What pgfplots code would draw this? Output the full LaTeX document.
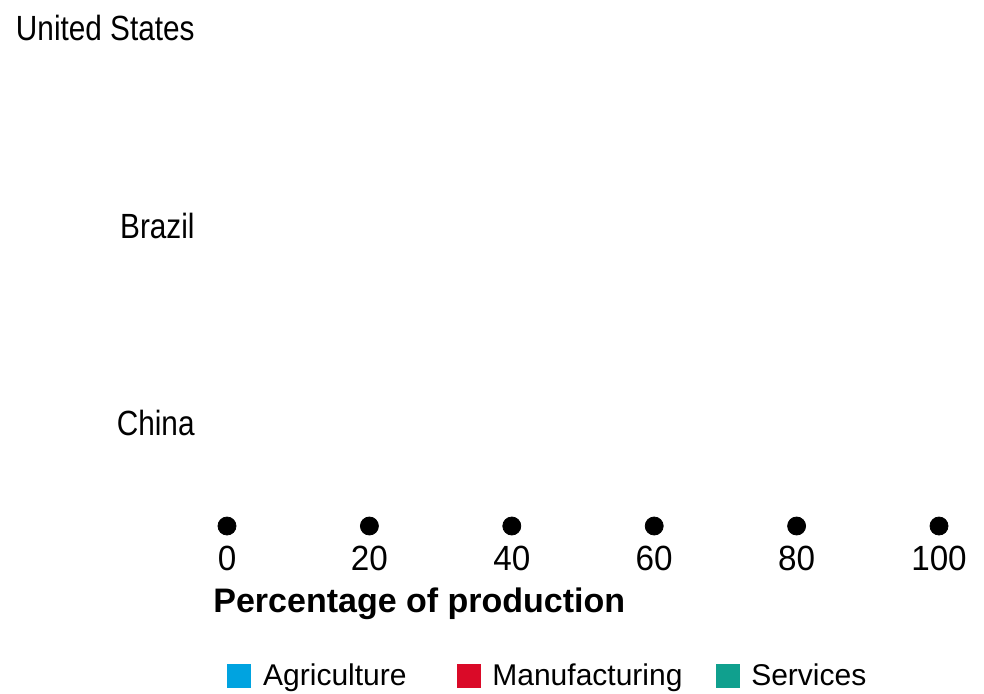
\documentclass[border=0pt]{standalone}
\usepackage{fontspec}
\setmainfont{Liberation Sans}
\newfontfamily\condfont[FakeStretch=0.85]{Liberation Sans}
\newfontfamily\numfont[FakeStretch=0.95]{Liberation Sans}
\usepackage{pgfplots}
\pgfplotsset{compat=1.18}

\definecolor{agri}{RGB}{0,163,224}
\definecolor{manuf}{RGB}{218,10,40}
\definecolor{serv}{RGB}{16,160,142}

\begin{document}
\begin{tikzpicture}
	\begin{axis}[
			at={(0,0)}, anchor=south west,
			scale only axis,
			width=356pt, height=248.9pt,
			xmin=0, xmax=100, ymin=-0.52, ymax=2,
			clip=false,
			axis line style={draw=none},
			major tick length=0pt,
			xtick={0,20,40,60,80,100},
			ytick={0,1,2},
			yticklabels={China,Brazil,United States},
			/pgf/number format/assume math mode=true,
			xticklabel style={font=\numfont\fontsize{17.5}{20}\selectfont, anchor=north, inner sep=0pt, yshift=-10pt},
			yticklabel style={font=\condfont\fontsize{17.5}{20}\selectfont, anchor=east, inner sep=0pt, xshift=-16pt},
			xlabel={Percentage of production},
			xlabel style={at={(axis description cs:0,0)}, anchor=base west, inner sep=0pt,
					xshift=-7pt, yshift=-43pt, font=\bfseries\fontsize{17}{20}\selectfont},
			legend style={
					at={(axis description cs:0,0)}, anchor=north west, yshift=-68.5pt,
					draw=none, fill=none, inner sep=0pt,
					font=\fontsize{15}{18}\selectfont,
					nodes={inner sep=0pt},
					/tikz/every odd column/.append style={column sep=6pt},
					/tikz/column 2/.style={column sep=25pt},
					/tikz/column 4/.style={column sep=16.5pt}
				},
			legend columns=3
		]
		% dots along the bottom, one per tick
		\addplot[forget plot, only marks, mark=*, mark size=4.5pt, black] coordinates {
				(0,-0.52) (20,-0.52) (40,-0.52) (60,-0.52) (80,-0.52) (100,-0.52)
			};
		\addlegendimage{legend image code/.code={\fill[agri] (0pt,-5.75pt) rectangle (11.5pt,5.75pt);}}
		\addlegendentry{Agriculture}
		\addlegendimage{legend image code/.code={\fill[manuf] (0pt,-5.75pt) rectangle (11.5pt,5.75pt);}}
		\addlegendentry{Manufacturing}
		\addlegendimage{legend image code/.code={\fill[serv] (0pt,-5.75pt) rectangle (11.5pt,5.75pt);}}
		\addlegendentry{Services}
	\end{axis}
	\path (-113.5pt,-83.5pt) rectangle (378.5pt,263pt);
\end{tikzpicture}
\end{document}
